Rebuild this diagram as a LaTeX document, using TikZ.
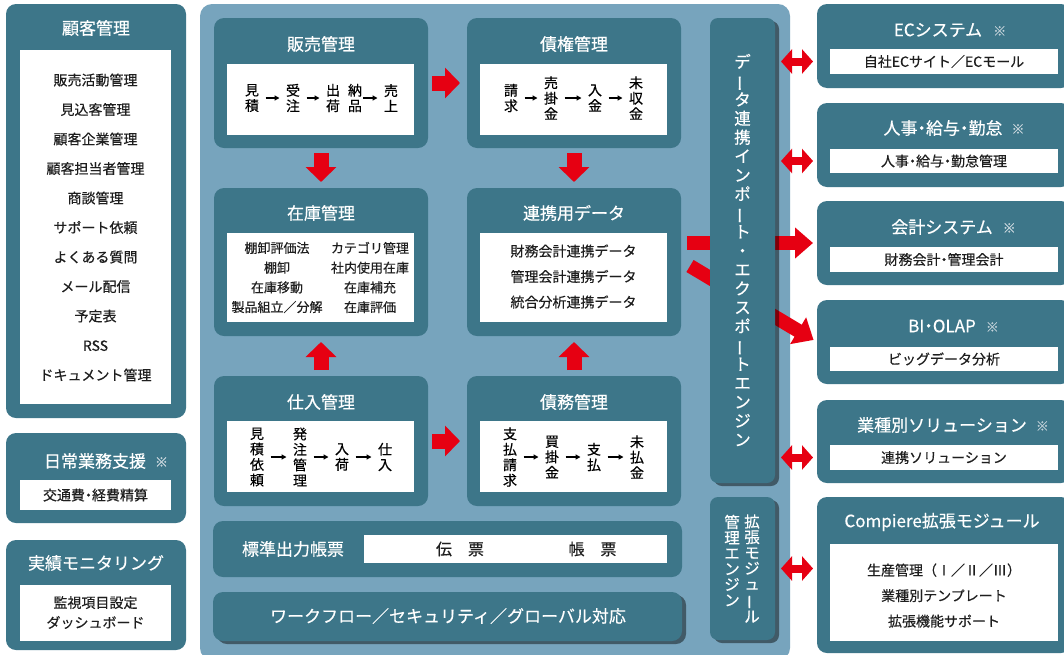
\documentclass[tikz,border=0pt]{standalone}
\usepackage{fontspec}
\setmainfont{Noto Sans CJK JP}[FakeBold=0.35]
\usetikzlibrary{arrows.meta,shadows,calc}
\definecolor{myteal}{HTML}{3D7689}
\definecolor{mypanel}{HTML}{77A4BD}
\definecolor{myred}{HTML}{E60012}
\definecolor{mytext}{HTML}{1E1E1E}
\definecolor{mynote}{HTML}{C4D3DA}
\newcommand\myvlong{\rotatebox[origin=c]{90}{ー}}
\newcommand\mydot{\kern-0.25em・\kern-0.25em}
\newcommand\bx[6]{%
  \pgfmathsetmacro\bxw{#5-#3}\pgfmathsetmacro\bxh{#6-#4}%
  \pgfmathsetmacro\bxcx{(#3+#5)/2}\pgfmathsetmacro\bxcy{(#4+#6)/2}%
  \node[#1, minimum width=\bxw pt, minimum height=\bxh pt] (#2) at (\bxcx,\bxcy) {};}
\tikzset{
  every node/.style={inner sep=0pt, outer sep=0pt},
  tbox/.style={fill=myteal, rounded corners=10pt},
  wbox/.style={fill=white},
  panelbox/.style={fill=mypanel, rounded corners=12pt},
  shadowed/.style={drop shadow={shadow xshift=4pt, shadow yshift=-3pt, opacity=0.45, fill=black}},
  ttl/.style={text=white, font=\fontsize{17}{20}\selectfont},
  note/.style={text=mynote, font=\fontsize{13}{14}\selectfont},
  body/.style={text=mytext, font=\fontsize{14}{16}\selectfont, align=center},
  flow/.style={text=black, font=\fontsize{14}{15.5}\selectfont, align=center},
  vtext/.style={text=white, align=center},
  flowarr/.style={-{Triangle[length=5pt,width=5pt]}, line width=1.3pt, black, shorten <=6.5pt, shorten >=6.5pt},
  blk/.style={-{Triangle[length=15pt,width=30pt]}, line width=15pt, myred},
  bigarr/.style={-{Triangle[length=18pt,width=30pt]}, line width=14pt, myred},
  dbl/.style={{Triangle[length=11pt,width=24pt]}-{Triangle[length=11pt,width=24pt]}, line width=8pt, myred, shorten <=6pt, shorten >=4pt},
}
\begin{document}
\begin{tikzpicture}[x=1pt,y=-1pt]
\clip (0,0) rectangle (1064,654);
\fill[white] (0,0) rectangle (1064,654);
% ---------- left column ----------
\bx{tbox}{kokyaku}{6}{4}{186}{418}
\node[ttl] (kokyakuT) at (96,28) {顧客管理};
\bx{wbox}{kokyakuW}{20}{50}{171}{404}
\node[body, font=\fontsize{14}{29.5}\selectfont] (kokyakuL) at (95.5,227.5) {販売活動管理\\見込客管理\\顧客企業管理\\顧客担当者管理\\商談管理\\サポート依頼\\よくある質問\\メール配信\\予定表\\RSS\\ドキュメント管理};
\bx{tbox}{nichijo}{6}{433}{186}{523}
\node[ttl] (nichijoT) at (95,461) {日常業務支援};
\node[note, anchor=west] (nichijoN) at ($(nichijoT.east)+(9,1)$) {※};
\bx{wbox}{nichijoW}{20}{480}{171}{510}
\node[body] (nichijoL) at (95.5,495) {交通費\mydot 経費精算};
\bx{tbox}{jisseki}{6}{540}{186}{650}
\node[ttl] (jissekiT) at (96,563) {実績モニタリング};
\bx{wbox}{jissekiW}{20}{585}{171}{641}
\node[body, font=\fontsize{14}{20}\selectfont] (jissekiL) at (95.5,612.5) {監視項目設定\\ダッシュボード};
% ---------- central panel ----------
\bx{panelbox}{panel}{200}{4}{790}{660}
% 販売管理
\bx{tbox}{hanbai}{214}{18}{428}{148}
\node[ttl] (hanbaiT) at (321,44) {販売管理};
\bx{wbox}{hanbaiW}{227}{64}{414}{135}
\node[flow] (h1) at (252,98) {見\\積};
\node[flow] (h2) at (293,98) {受\\注};
\node[flow] (h3) at (333,98) {出\\荷};
\node[flow] (h4) at (355,98) {納\\品};
\node[flow] (h5) at (391,98) {売\\上};
\draw[flowarr] (h1) -- (h2);
\draw[flowarr] (h2) -- (h3);
\draw[flowarr, shorten <=1pt] (h4) -- (h5);
% 債権管理
\bx{tbox}{saiken}{467}{18}{681}{148}
\node[ttl] (saikenT) at (574,44) {債権管理};
\bx{wbox}{saikenW}{480}{64}{667}{135}
\node[flow] (s1) at (511,98) {請\\求};
\node[flow] (s2) at (551,98) {売\\掛\\金};
\node[flow] (s3) at (595,98) {入\\金};
\node[flow] (s4) at (636,98) {未\\収\\金};
\draw[flowarr] (s1) -- (s2);
\draw[flowarr] (s2) -- (s3);
\draw[flowarr] (s3) -- (s4);
% 在庫管理
\bx{tbox}{zaiko}{214}{188}{428}{336}
\node[ttl] (zaikoT) at (321,213) {在庫管理};
\bx{wbox}{zaikoW}{227}{233}{414}{322}
\node[body, font=\fontsize{13}{19.7}\selectfont] (zaikoL) at (277,277.5) {棚卸評価法\\棚卸\\在庫移動\\製品組立／分解};
\node[body, font=\fontsize{13}{19.7}\selectfont] (zaikoR) at (370,277.5) {カテゴリ管理\\社内使用在庫\\在庫補充\\在庫評価};
% 連携用データ
\bx{tbox}{renkei}{467}{188}{681}{336}
\node[ttl] (renkeiT) at (574,213) {連携用データ};
\bx{wbox}{renkeiW}{480}{233}{667}{322}
\node[body, font=\fontsize{14}{25.5}\selectfont] (renkeiL) at (573.5,276.5) {財務会計連携データ\\管理会計連携データ\\統合分析連携データ};
% 仕入管理
\bx{tbox}{shiire}{214}{376}{428}{506}
\node[ttl] (shiireT) at (321,402) {仕入管理};
\bx{wbox}{shiireW}{227}{421}{414}{492}
\node[flow] (p1) at (257,457) {見\\積\\依\\頼};
\node[flow] (p2) at (300,457) {発\\注\\管\\理};
\node[flow] (p3) at (342,457) {入\\荷};
\node[flow] (p4) at (385,457) {仕\\入};
\draw[flowarr] (p1) -- (p2);
\draw[flowarr] (p2) -- (p3);
\draw[flowarr] (p3) -- (p4);
% 債務管理
\bx{tbox}{saimu}{467}{376}{681}{506}
\node[ttl] (saimuT) at (574,402) {債務管理};
\bx{wbox}{saimuW}{480}{421}{667}{492}
\node[flow] (m1) at (510,457) {支\\払\\請\\求};
\node[flow] (m2) at (552,457) {買\\掛\\金};
\node[flow] (m3) at (594,457) {支\\払};
\node[flow] (m4) at (637,457) {未\\払\\金};
\draw[flowarr] (m1) -- (m2);
\draw[flowarr] (m2) -- (m3);
\draw[flowarr] (m3) -- (m4);
% 標準出力帳票
\bx{tbox}{chohyo}{213}{521}{682}{577}
\node[ttl] (chohyoT) at (293,549) {標準出力帳票};
\bx{wbox}{chohyoW}{364}{535}{667}{563}
\node[body, font=\fontsize{16}{18}\selectfont] (denpyo) at (460,549) {伝\hspace{1em}票};
\node[body, font=\fontsize{16}{18}\selectfont] (chohyoL) at (592.5,549) {帳\hspace{1em}票};
% ワークフロー
\bx{tbox,shadowed}{wf}{213}{592}{682}{641}
\node[ttl] (wfT) at (448,616) {ワークフロー／セキュリティ／グローバル対応};
% ---------- right column ----------
\bx{tbox}{ec}{817}{4}{1071}{88}
\node[ttl] (ecT) at (938,30) {ECシステム};
\node[note, anchor=west] (ecN) at ($(ecT.east)+(11,1)$) {※};
\bx{wbox}{ecW}{830}{49}{1058}{74}
\node[body] (ecL) at (944,61.5) {自社ECサイト／ECモール};
\bx{tbox}{jinji}{817}{103}{1071}{187}
\node[ttl] (jinjiT) at (943,128) {人事\mydot 給与\mydot 勤怠};
\node[note, anchor=west] (jinjiN) at ($(jinjiT.east)+(9,1)$) {※};
\bx{wbox}{jinjiW}{830}{149}{1058}{173}
\node[body] (jinjiL) at (944,161) {人事\mydot 給与\mydot 勤怠管理};
\bx{tbox}{kaikei}{817}{201}{1071}{285}
\node[ttl] (kaikeiT) at (942,227) {会計システム};
\node[note, anchor=west] (kaikeiN) at ($(kaikeiT.east)+(10,1)$) {※};
\bx{wbox}{kaikeiW}{830}{247}{1058}{272}
\node[body] (kaikeiL) at (944,259.5) {財務会計\mydot 管理会計};
\bx{tbox}{bi}{817}{300}{1071}{384}
\node[ttl] (biT) at (942,326) {BI\mydot OLAP};
\node[note, anchor=west] (biN) at ($(biT.east)+(10,1)$) {※};
\bx{wbox}{biW}{830}{347}{1058}{371}
\node[body] (biL) at (944,359) {ビッグデータ分析};
\bx{tbox}{gyoshu}{817}{400}{1071}{483}
\node[ttl] (gyoshuT) at (942,425) {業種別ソリューション};
\node[note, anchor=west] (gyoshuN) at ($(gyoshuT.east)+(9,1)$) {※};
\bx{wbox}{gyoshuW}{830}{445}{1058}{470}
\node[body] (gyoshuL) at (944,457.5) {連携ソリューション};
\bx{tbox}{comp}{817}{497}{1071}{653}
\node[ttl] (compT) at (942,522) {Compiere拡張モジュール};
\bx{wbox}{compW}{830}{544}{1058}{641}
\node[body, font=\fontsize{14}{25.5}\selectfont] (compL) at (944,595.5) {生産管理（Ⅰ／Ⅱ／Ⅲ）\\業種別テンプレート\\拡張機能サポート};
% ---------- red arrows ----------
\draw[blk, shorten <=4pt, shorten >=7pt] (hanbai.east) -- (saiken.west);
\draw[blk, shorten <=4pt, shorten >=7pt] (shiire.east) -- (saimu.west);
\draw[blk, shorten <=5pt, shorten >=6pt] (hanbai.south) -- (zaiko.north);
\draw[blk, shorten <=5pt, shorten >=6pt] (saiken.south) -- (renkei.north);
\draw[blk, shorten <=6pt, shorten >=6pt] (shiire.north) -- (zaiko.south);
\draw[blk, shorten <=6pt, shorten >=6pt] (saimu.north) -- (renkei.south);
\draw[bigarr, shorten <=6pt, shorten >=4pt] (renkei.east |- kaikei.west) -- (kaikei.west);
\draw[bigarr, shorten >=4pt] ($(renkei.east)+(9,4)$) -- (bi.west);
% ---------- engines ----------
\bx{tbox,shadowed,rounded corners=8pt}{eng1}{710}{18}{775}{483}
\node[vtext, font=\fontsize{16.5}{18.9}\selectfont] (eng1T) at (742.5,250) {デ\\\myvlong\\タ\\連\\携\\イ\\ン\\ポ\\\myvlong\\ト\\・\\エ\\ク\\ス\\ポ\\\myvlong\\ト\\エ\\ン\\ジ\\ン};
\bx{tbox,shadowed,rounded corners=8pt}{eng2}{710}{497}{775}{640}
\node[vtext, font=\fontsize{15.5}{15.6}\selectfont] (eng2R) at (752,568.5) {拡\\張\\モ\\ジ\\ュ\\\myvlong\\ル};
\node[vtext, font=\fontsize{15.5}{15.6}\selectfont] (eng2L) at (732,560.5) {管\\理\\エ\\ン\\ジ\\ン};
% ---------- two-way arrows ----------
\draw[dbl] (eng1.east |- ecW.west) -- (ec.west |- ecW.west);
\draw[dbl] (eng1.east |- jinjiW.west) -- (jinji.west |- jinjiW.west);
\draw[dbl] (eng1.east |- gyoshuW.west) -- (gyoshu.west |- gyoshuW.west);
\draw[dbl] (eng2.east) -- (comp.west |- eng2.east);
\end{tikzpicture}
\end{document}
